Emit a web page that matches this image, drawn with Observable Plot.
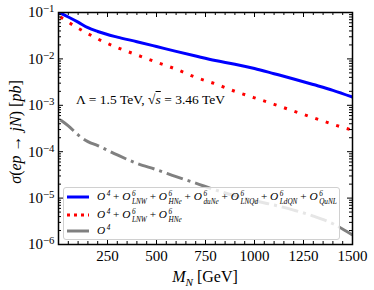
<!DOCTYPE html>
<html><head><meta charset="utf-8">
<script src="https://cdn.jsdelivr.net/npm/d3@7"></script>
<script src="https://cdn.jsdelivr.net/npm/@observablehq/plot@0.6"></script>
<style>
body{margin:0;background:#fff;}
#wrap{position:relative;width:374px;height:290px;font-family:"Liberation Serif",serif;color:#000;}
.ov{position:absolute;white-space:nowrap;font-family:"Liberation Serif",serif;}
.ss{display:inline-block;vertical-align:-0.62em;font-size:0.64em;line-height:1.12;text-align:left;font-style:italic;margin-left:1.5px;}
.ss span{display:block;}
#legend{position:absolute;left:63px;top:187px;width:277px;height:53px;background:rgba(255,255,255,0.8);border:1px solid #d0d0d0;border-radius:3px;box-sizing:border-box;font-family:"Liberation Serif",serif;}
.row{position:absolute;left:0;height:16px;display:flex;align-items:center;white-space:nowrap;}
.row svg{margin-left:3px;margin-right:8px;flex:none;}
.lt{font-size:11.3px;font-style:italic;line-height:16px;white-space:nowrap;}
</style></head>
<body><div id="wrap"></div>
<script>
// Data
const masses = [10, 50, 100, 150, 200, 300, 400, 500, 600, 700, 800, 900, 1000, 1100, 1200, 1300, 1400, 1500];
const sigmaAll = [0.097, 0.080, 0.062, 0.047, 0.039, 0.0295, 0.0235, 0.0185, 0.0145, 0.0115, 0.0092, 0.0077, 0.0062, 0.0048, 0.0037, 0.0028, 0.0021, 0.0015];
const sigmaLNWHNe = [0.080, 0.062, 0.046, 0.035, 0.027, 0.0175, 0.0122, 0.0085, 0.0060, 0.0040, 0.0029, 0.0020, 0.00145, 0.00105, 0.00075, 0.00054, 0.00039, 0.00029];
const sigmaO4 = [4.8e-4, 3.6e-4, 2.3e-4, 1.65e-4, 1.35e-4, 8.5e-5, 5.6e-5, 4.1e-5, 2.9e-5, 2.1e-5, 1.5e-5, 1.12e-5, 8.8e-6, 7.1e-6, 5.5e-6, 4.1e-6, 2.8e-6, 1.6e-6];
const xMajorTicks = [250, 500, 750, 1000, 1250, 1500];
const yMajorTicks = [1e-6, 1e-5, 1e-4, 1e-3, 1e-2, 1e-1];

const W = 374, H = 290, mL = 58, mR = 22, mT = 12, mB = 46;
const innerH = H - mT - mB, innerW = W - mL - mR;
const rows = masses.map((m, i) => ({M: m, a: sigmaAll[i], b: sigmaLNWHNe[i], c: sigmaO4[i]}));
const xMajorAll = d3.range(0, 1501, 250);
const xMinor = d3.range(50, 1500, 50).filter(v => v % 250 !== 0);
const yMinor = [];
for (let e = -6; e < -1; e++) for (let k = 2; k <= 9; k++) yMinor.push(k * Math.pow(10, e));
const MAJ = 5, MIN = 3;
const FONT = "'Liberation Serif', serif";

const chart = Plot.plot({
  width: W, height: H, marginLeft: mL, marginRight: mR, marginTop: mT, marginBottom: mB,
  style: {fontFamily: FONT, fontSize: "15px", color: "#000", background: "#fff", overflow: "visible"},
  x: {domain: [0, 1500]},
  y: {type: "log", domain: [1e-6, 1e-1]},
  marks: [
    Plot.line(rows, {x: "M", y: "c", stroke: "#808080", strokeWidth: 3, strokeDasharray: "17,5,3,5", strokeLinecap: "butt", curve: "monotone-x", clip: true}),
    Plot.line(rows, {x: "M", y: "b", stroke: "#ff0000", strokeWidth: 3, strokeDasharray: "3,8", strokeLinecap: "butt", curve: "monotone-x", clip: true}),
    Plot.line(rows, {x: "M", y: "a", stroke: "#0000ff", strokeWidth: 3, curve: "monotone-x", clip: true}),
    // inward ticks on all four sides
    Plot.ruleX(xMajorAll, {x: d => d, insetTop: innerH - MAJ, stroke: "#000"}),
    Plot.ruleX(xMajorAll, {x: d => d, insetBottom: innerH - MAJ, stroke: "#000"}),
    Plot.ruleX(xMinor, {x: d => d, insetTop: innerH - MIN, stroke: "#000"}),
    Plot.ruleX(xMinor, {x: d => d, insetBottom: innerH - MIN, stroke: "#000"}),
    Plot.ruleY(yMajorTicks, {y: d => d, insetRight: innerW - MAJ, stroke: "#000"}),
    Plot.ruleY(yMajorTicks, {y: d => d, insetLeft: innerW - MAJ, stroke: "#000"}),
    Plot.ruleY(yMinor, {y: d => d, insetRight: innerW - MIN, stroke: "#000"}),
    Plot.ruleY(yMinor, {y: d => d, insetLeft: innerW - MIN, stroke: "#000"}),
    Plot.axisX({ticks: xMajorTicks, tickSize: 0, tickPadding: 6, label: null, tickFormat: d => String(d), fontSize: 15, fontFamily: FONT}),
    Plot.axisY({ticks: yMajorTicks, tickSize: 0, tickPadding: 4, label: null, tickFormat: d => "10^" + Math.round(Math.log10(d)), fontSize: 15, fontFamily: FONT}),
    Plot.frame({stroke: "#000", strokeWidth: 1.5})
  ]
});
const wrap = document.getElementById("wrap");
wrap.appendChild(chart);

// superscript exponents on y tick labels
d3.select(chart).selectAll('g[aria-label="y-axis tick label"] text').each(function() {
  const t = d3.select(this);
  const s = t.text();
  const [base, ex] = s.split("^");
  t.text(null);
  t.append("tspan").text(base);
  t.append("tspan").attr("dy", "-0.45em").attr("font-size", "0.72em").text("\u2212" + ex.replace("-", ""));
});

function O(sup, sub) {
  return `<i>O</i><span class="ss"><span>${sup}</span><span>${sub || "&nbsp;"}</span></span>`;
}
const plus = ' <span style="font-style:normal">+</span> ';

wrap.insertAdjacentHTML("beforeend", `
<div class="ov" style="top:132px;transform:translate(-50%,-50%) rotate(-90deg);transform-origin:center;left:16px;font-size:16px;">
<i>σ</i>(<i>ep</i> → <i>jN</i>) [<i>pb</i>]</div>
<div class="ov" style="left:205px;top:278px;transform:translate(-50%,-50%);font-size:16px;"><i>M</i><sub style="font-size:0.7em;font-style:italic;">N</sub> [GeV]</div>
<div class="ov" style="left:76px;top:92px;font-size:13.5px;">Λ = 1.5 TeV, √<span style="text-decoration:overline"><i>s</i></span> = 3.46 TeV</div>
<div id="legend">
 <div class="row" style="top:1px"><svg width="22" height="6"><line x1="0" y1="3" x2="22" y2="3" stroke="#0000ff" stroke-width="3"/></svg>
  <span class="lt">${O("4","")}${plus}${O("6","LNW")}${plus}${O("6","HNe")}${plus}${O("6","duNe")}${plus}${O("6","LNQd")}${plus}${O("6","LdQN")}${plus}${O("6","QuNL")}</span></div>
 <div class="row" style="top:19px"><svg width="22" height="6"><line x1="0" y1="3" x2="22" y2="3" stroke="#ff0000" stroke-width="3" stroke-dasharray="3,4"/></svg>
  <span class="lt">${O("4","")}${plus}${O("6","LNW")}${plus}${O("6","HNe")}</span></div>
 <div class="row" style="top:35px"><svg width="22" height="6"><line x1="0" y1="3" x2="22" y2="3" stroke="#808080" stroke-width="3"/></svg>
  <span class="lt">${O("4","")}</span></div>
</div>`);
</script></body></html>
